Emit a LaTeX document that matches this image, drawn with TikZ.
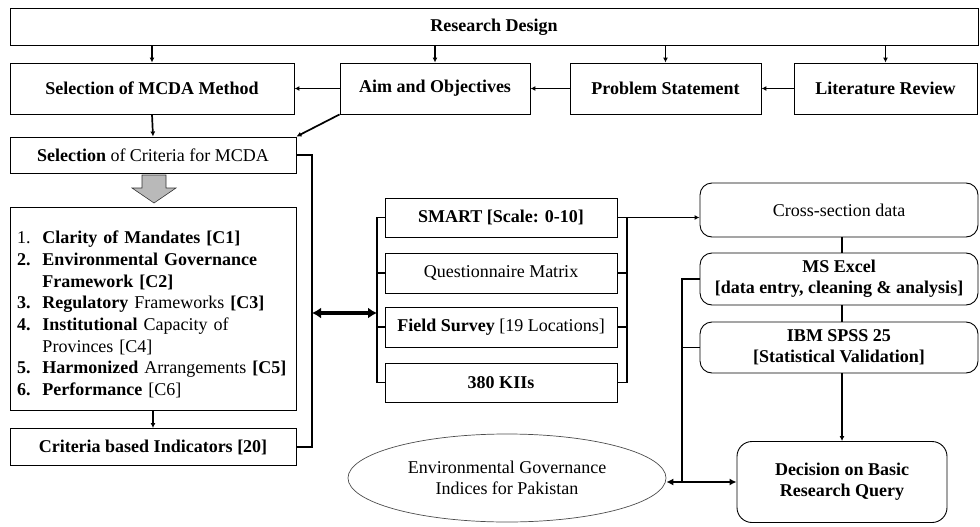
\documentclass[tikz,border=0pt]{standalone}
\usepackage{fontspec}
\setmainfont{Liberation Serif}
\usetikzlibrary{arrows.meta,shapes.geometric}
\begin{document}
\begin{tikzpicture}[x=1pt,y=-1pt,
  txt/.style={font=\fontsize{18}{21}\selectfont},
  box/.style={txt, draw=black, line width=0.9pt, inner sep=0pt, align=center},
  rbox/.style={box, rounded corners=12pt},
  link/.style={line width=1.7pt, -{Latex[length=5pt,width=5pt]}},
  wire/.style={line width=1.7pt},
  heavy/.style={line width=2.6pt, -{Latex[length=7pt,width=7pt]}},
  fat/.style={line width=4pt, {Latex[length=9pt,width=11pt]}-{Latex[length=9pt,width=11pt]}}
]
\useasboundingbox (0,0) rectangle (980,527);

% ---- top band and planning row ----
\node[box, minimum width=968, minimum height=37] (rd) at (494,27) {\textbf{Research Design}};
\node[box, minimum width=284, minimum height=51] (mcda) at (152,88.5) {\textbf{Selection of MCDA Method}};
\node[box, minimum width=190, minimum height=51] (aim) at (435,88.5) {\textbf{Aim and Objectives}};
\node[box, minimum width=191, minimum height=51] (prob) at (665.5,88.5) {\textbf{Problem Statement}};
\node[box, minimum width=183, minimum height=51] (lit) at (885.5,88.5) {\textbf{Literature Review}};

\foreach \n in {mcda,aim,prob,lit}
  \draw[link] (rd.south -| \n) -- (\n.north);
\draw[link] (lit.west) -- (prob.east);
\draw[link] (prob.west) -- (aim.east);
\draw[link] (aim.west) -- (mcda.east);

% ---- criteria column ----
\node[box, minimum width=286, minimum height=36] (crit) at (153,155) {\textbf{Selection} of Criteria for MCDA};
\draw[link] (mcda.south) -- (crit.north);
\draw[link] (aim.south west) -- (crit.north east);

\filldraw[fill=gray!55, draw=black!80, line width=0.6pt]
  (142,175) -- (166,175) -- (166,188) -- (176,188) -- (154,203) -- (132,188) -- (142,188) -- cycle;

% criteria list: frame and its text
\node[box, minimum width=286, minimum height=203] (list) at (153,308.5) {};
\node[txt, inner sep=0pt, text width=272, align=left,
      font=\fontsize{18}{21.7}\selectfont] (listtxt) at (153,314.5) {%
1.\ \ \textbf{Clarity of Mandates [C1]}\\
\textbf{2.}\ \ \textbf{Environmental Governance}\\
\phantom{2.\ \ }\textbf{Framework [C2]}\\
\textbf{3.}\ \ \textbf{Regulatory} Frameworks \textbf{[C3]}\\
\textbf{4.}\ \ \textbf{Institutional} Capacity of\\
\phantom{4.\ \ }Provinces [C4]\\
\textbf{5.}\ \ \textbf{Harmonized} Arrangements \textbf{[C5]}\\
\textbf{6.}\ \ \textbf{Performance} [C6]};

\node[box, minimum width=286, minimum height=37] (ind) at (153,447) {\textbf{Criteria based Indicators [20]}};
\draw[link] (list.south) -- (ind.north);

\coordinate (lbT) at (312,155);
\coordinate (lbM) at (312,313);
\coordinate (lbB) at (312,447);
\draw[wire] (crit.east) -- (lbT) -- (lbB) -- (ind.east);

% ---- data collection tools ----
\node[box, minimum width=232, minimum height=39] (smart) at (501,217.5) {\textbf{SMART [Scale: 0-10]}};
\node[box, minimum width=232, minimum height=40] (quest) at (501,273) {Questionnaire Matrix};
\node[box, minimum width=232, minimum height=40] (field) at (501,327) {\textbf{Field Survey} [19 Locations]};
\node[box, minimum width=232, minimum height=39] (kii) at (501,382.5) {\textbf{380 KIIs}};

\coordinate (mlT) at (377,217.5);
\coordinate (mlM) at (377,313);
\coordinate (mlB) at (377,382.5);
\coordinate (mrT) at (627,217.5);
\coordinate (mrB) at (627,382.5);
\draw[wire] (smart.west) -- (mlT) -- (mlB) -- (kii.west);
\draw[wire] (quest.west) -- (quest.west -| mlT);
\draw[wire] (field.west) -- (field.west -| mlT);
\draw[wire] (smart.east) -- (mrT) -- (mrB) -- (kii.east);
\draw[wire] (quest.east) -- (quest.east -| mrT);
\draw[wire] (field.east) -- (field.east -| mrT);
\draw[fat] (lbM) -- (mlM);

% ---- analysis chain ----
\node[rbox, minimum width=278, minimum height=54] (cross) at (839,210) {Cross-section data};
\node[rbox, minimum width=278, minimum height=52] (excel) at (839,279) {\textbf{MS Excel}\\ \textbf{[data entry, cleaning \& analysis]}};
\node[rbox, minimum width=278, minimum height=51] (spss) at (839,347.5) {\textbf{IBM SPSS 25}\\ \textbf{[Statistical Validation]}};
\node[rbox, rounded corners=15pt, minimum width=210, minimum height=81] (dec) at (842,482) {\textbf{Decision on Basic}\\ \textbf{Research Query}};
\node[ellipse, draw=black!70, line width=0.7pt, txt, align=center, inner sep=0pt,
      minimum width=318, minimum height=88] (ell) at (507,478) {Environmental Governance\\ Indices for Pakistan};

\draw[link] (smart.east) -- (smart.east -| cross.west);
\draw[wire] (cross.south -| dec.north) -- (excel.north -| dec.north);
\draw[wire] (excel.south -| dec.north) -- (spss.north -| dec.north);
\draw[link] (spss.south -| dec.north) -- (dec.north);

\coordinate (rbT) at (682,279);
\coordinate (rbB) at (682,482);
\draw[wire] (excel.west) -- (rbT) -- (rbB);
\draw[wire] (spss.west) -- (spss.west -| rbT);
\draw[heavy] (rbB) -- (rbB -| ell.east);
\draw[heavy] (rbB) -- (dec.west);
\end{tikzpicture}
\end{document}
